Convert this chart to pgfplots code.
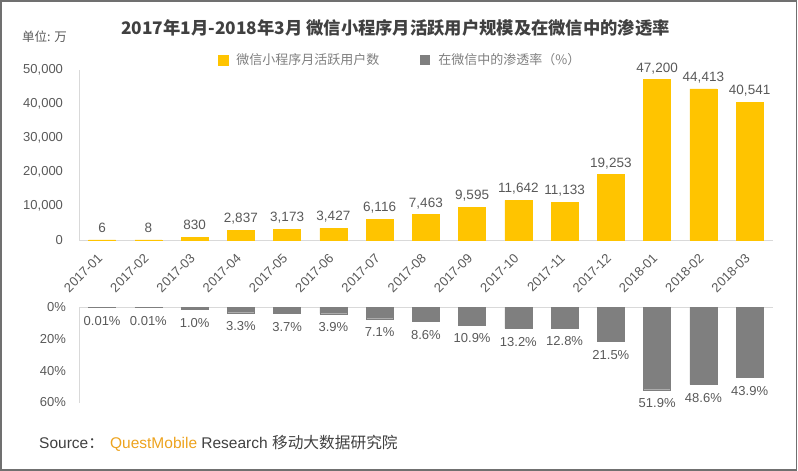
\documentclass[border=0pt]{standalone}
\usepackage{pgfplots}
\pgfplotsset{compat=1.18}
\usepackage{pgfplotstable}
\usepackage{fontspec}
\setmainfont{Liberation Sans}
\newfontfamily\cjk{Noto Sans CJK SC}
\definecolor{yel}{HTML}{FFC400}
\definecolor{gbar}{HTML}{7F7F7F}
\definecolor{txt}{HTML}{595959}
\definecolor{ttl}{HTML}{404040}
\definecolor{lgd}{HTML}{7F7F7F}
\definecolor{qm}{HTML}{EDA31E}
\definecolor{axl}{HTML}{D9D9D9}
\definecolor{frm}{HTML}{707070}

\pgfplotstableread{
x users ulab pen plab
0 6 6 0.01 0.01
1 8 8 0.01 0.01
2 830 830 1.0 1.0
3 2837 2,837 3.3 3.3
4 3173 3,173 3.7 3.7
5 3427 3,427 3.9 3.9
6 6116 6,116 7.1 7.1
7 7463 7,463 8.6 8.6
8 9595 9,595 10.9 10.9
9 11642 11,642 13.2 13.2
10 11133 11,133 12.8 12.8
11 19253 19,253 21.5 21.5
12 47200 47,200 51.9 51.9
13 44413 44,413 48.6 48.6
14 40541 40,541 43.9 43.9
}\data

\pgfplotsset{sqlegend/.style={legend image code/.code={\fill[##1] (0pt,-5pt) rectangle (10pt,5pt);}}}

\begin{document}
\begin{tikzpicture}[x=1pt,y=1pt]
\useasboundingbox (0,0) rectangle (798,471);
\draw[frm, line width=1.6pt] (0.8,0.8) rectangle (796.6,470.2);

\node[text=ttl, font=\cjk\bfseries\fontsize{17.3}{17.3}\selectfont] at (395.5,443.5) {2017年1月-2018年3月 微信小程序月活跃用户规模及在微信中的渗透率};
\node[text=txt, font=\cjk\fontsize{12.5}{12.5}\selectfont, anchor=west, inner sep=0pt] at (22,434) {单位: 万};

\begin{axis}[
  at={(79pt,231pt)}, anchor=south west, scale only axis,
  width=693.75pt, height=170pt,
  xmin=-0.5, xmax=14.5, ymin=0, ymax=50000,
  axis x line=bottom, axis y line=left,
  axis line style={axl, line width=0.8pt, -},
  major tick length=0pt,
  ytick={0,10000,20000,30000,40000,50000}, scaled y ticks=false,
  /pgf/number format/1000 sep={,},
  /pgf/number format/assume math mode=true,
  yticklabel style={font=\fontsize{13}{13}\selectfont, text=txt, xshift=-12.5pt},
  xtick=data,
  xticklabels={2017-01,2017-02,2017-03,2017-04,2017-05,2017-06,2017-07,2017-08,2017-09,2017-10,2017-11,2017-12,2018-01,2018-02,2018-03},
  xticklabel style={xshift=-2pt, yshift=-16pt, rotate=45, anchor=east, inner sep=0pt, font=\fontsize{13}{13}\selectfont, text=txt},
  clip=false,
  legend columns=2,
  legend style={at={(axis description cs:0.2004,1.0588)}, anchor=west, draw=none, fill=none,
    inner sep=0pt, outer sep=0pt,
    nodes={inner sep=0pt, font=\cjk\fontsize{13}{13}\selectfont, text=lgd},
    /tikz/every odd column/.append style={column sep=8pt},
    /tikz/every even column/.append style={column sep=41pt}},
]
\addplot[ybar, bar width=27pt, fill=yel, draw=yel, line width=0.3pt, sqlegend,
  point meta=explicit symbolic, nodes near coords,
  every node near coord/.append style={anchor=base, yshift=7.5pt, font=\fontsize{13.5}{13.5}\selectfont, text=txt}]
  table[x=x, y=users, meta=ulab] {\data};
\addlegendentry{微信小程序月活跃用户数}
\addlegendimage{fill=gbar, draw=none, sqlegend}
\addlegendentry{在微信中的渗透率（\%）}
\end{axis}

\begin{axis}[
  at={(79pt,163.5pt)}, anchor=north west, scale only axis,
  width=693.75pt, height=95pt,
  xmin=-0.5, xmax=14.5, ymin=0, ymax=60, y dir=reverse,
  axis x line=none, axis y line=left,
  axis line style={axl, line width=0.8pt, -},
  major tick length=0pt,
  xtick=\empty,
  ytick={0,20,40,60},
  yticklabel={\pgfmathprintnumber{\tick}\%},
  /pgf/number format/assume math mode=true,
  yticklabel style={font=\fontsize{13}{13}\selectfont, text=txt, xshift=-9.5pt},
  clip=false,
]
\draw[axl, line width=0.8pt] (axis cs:-0.5,0) -- (axis cs:14.5,0);
\addplot[ybar, bar width=27pt, fill=gbar, draw=gbar, line width=0.3pt,
  point meta=explicit symbolic, nodes near coords={\pgfplotspointmeta\%},
  every node near coord/.append style={anchor=base, yshift=-18pt, font=\fontsize{13}{13}\selectfont, text=txt}]
  table[x=x, y=pen, meta=plab] {\data};
\end{axis}

\node[anchor=base west, inner sep=0pt, font=\fontsize{15.5}{15.5}\selectfont, text=ttl] at (39,22.5)
  {Source{\cjk ：}\hspace{2pt} \textcolor{qm}{QuestMobile} Research {\cjk\fontsize{15.7}{15.7}\selectfont 移动大数据研究院}};
\end{tikzpicture}
\end{document}
